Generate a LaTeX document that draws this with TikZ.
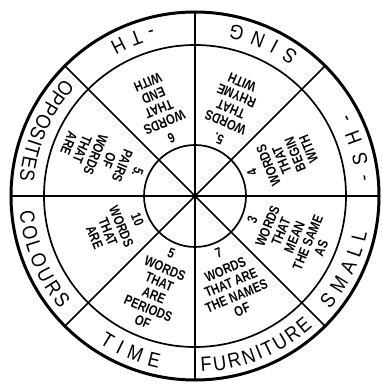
\documentclass[tikz,border=0pt]{standalone}
\usepackage{fontspec}
\setmainfont{Liberation Sans}
\newfontfamily\outerfont{Liberation Sans}[FakeStretch=0.88]
\newfontfamily\innerfont{Liberation Sans}[FakeStretch=0.8]
\usetikzlibrary{decorations.text}
\tikzset{
  thinline/.style={line width=1.7pt},
  rimline/.style={line width=3pt},
  innertxt/.style={font=\innerfont\bfseries\fontsize{14}{14.5}\selectfont, align=center, inner sep=0pt},
}
\newcommand\ringlabel[3]{%
  \path[decorate, decoration={text along path, text align={fit to path},
    text={|\outerfont\fontsize{20.5}{20.5}\selectfont|#3}}]
    (#1:176) arc[start angle=#1, end angle=#2, radius=176];}
\newcommand\sectortext[3]{%
  \node[innertxt, rotate=#2+90, anchor=north] (#1) at (#2:57) {#3};}
\begin{document}
\begin{tikzpicture}[x=1pt,y=1pt]
\useasboundingbox (-195,-191) rectangle (187,196);
\coordinate (c) at (0,0);
% circles
\draw[rimline] (c) circle[radius=184];
\draw[thinline] (c) circle[radius=151];
\draw[thinline] (c) circle[radius=51];
% radial lines
\foreach \a in {0,45,...,315}{
  \coordinate (r\a) at (\a:183);
  \draw[thinline] (c) -- (r\a);
}
\fill (c) circle[radius=3];
% outer ring labels
\ringlabel{104}{119}{-TH}
\ringlabel{54}{78}{SING}
\ringlabel{5}{28}{-SH-}
\ringlabel{-40}{-12}{SMALL}
\ringlabel{-88}{-48}{FURNITURE}
\ringlabel{-123}{-102}{TIME}
\ringlabel{185}{220}{COLOURS}
\ringlabel{138}{175}{OPPOSITES}
% inner sectors
\sectortext{s4}{22.5}{4\\[3pt]WORDS\\THAT\\BEGIN\\WITH}
\sectortext{s5a}{67.5}{5.\\[3pt]WORDS\\THAT\\RHYME\\WITH}
\sectortext{s6}{112.5}{6\\[3pt]WORDS\\THAT\\END\\WITH}
\sectortext{s5b}{157.5}{5.\\[2pt]PAIRS\\OF\\WORDS\\THAT\\ARE}
\sectortext{s10}{202.5}{10\\[3pt]WORDS\\THAT\\ARE}
\sectortext{s5c}{247.5}{5\\[2pt]WORDS\\THAT\\ARE\\PERIODS\\OF}
\sectortext{s7}{292.5}{7\\[3pt]WORDS\\THAT ARE\\THE NAMES\\OF}
\sectortext{s3}{337.5}{3\\[2pt]WORDS\\THAT\\MEAN\\THE SAME\\AS}
\end{tikzpicture}
\end{document}
